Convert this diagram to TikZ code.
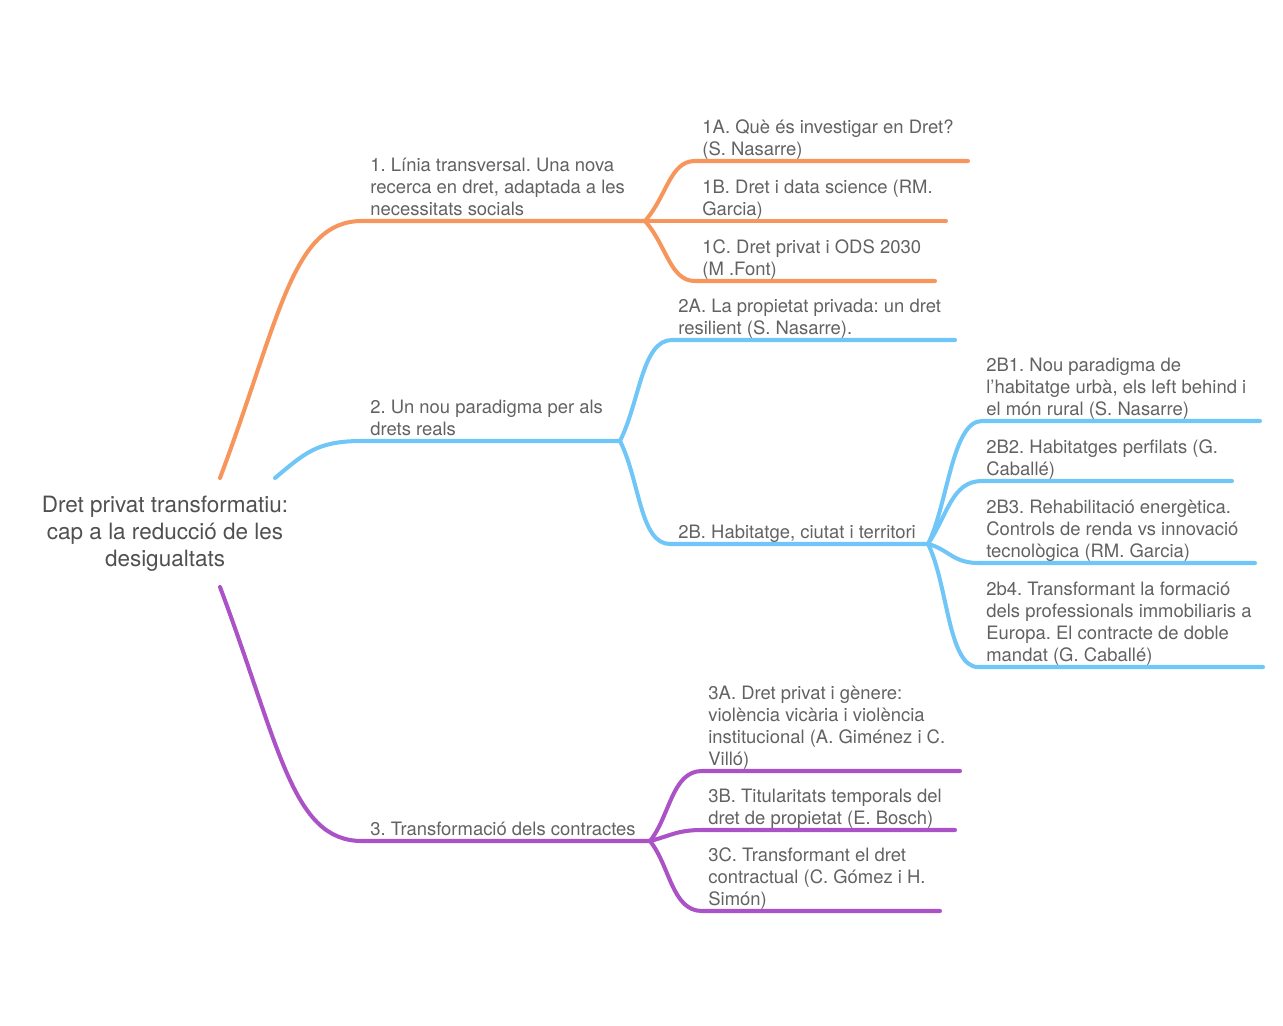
\documentclass[tikz,border=0pt]{standalone}
\usepackage{fontspec}
\setmainfont{TeX Gyre Heros}
\frenchspacing
\definecolor{brOrange}{RGB}{247,150,92}
\definecolor{brBlue}{RGB}{112,198,246}
\definecolor{brPurple}{RGB}{170,82,198}
\definecolor{txtGray}{RGB}{98,98,98}
\definecolor{rootGray}{RGB}{80,80,80}
\tikzset{
  branch/.style={line width=2.3pt, line cap=round},
  topic/.style={anchor=south west, inner sep=0pt, align=left, text depth=0pt,
    text=txtGray, font=\fontsize{10.5}{12.6}\selectfont},
  rootnode/.style={align=center, inner sep=0pt, text=rootGray,
    font=\fontsize{12.8}{15.4}\selectfont},
}
\begin{document}
\begin{tikzpicture}[x=0.02cm, y=-0.02cm]
\useasboundingbox (0,0) rectangle (1283,1026);
% centre
\node[rootnode] (root) at (165,534) {Dret privat transformatiu:\\cap a la reducció de les\\desigualtats};
% junctions and line ends
\coordinate (s1) at (220,478);
\coordinate (h1) at (362,221);
\coordinate (j1) at (645,221);
\coordinate (h1a) at (695,161);
\coordinate (e1a) at (968,161);
\coordinate (e1b) at (946,221);
\coordinate (h1c) at (695,281);
\coordinate (e1c) at (935,281);
\coordinate (s2) at (275,478);
\coordinate (h2) at (362,441);
\coordinate (j2) at (620,441);
\coordinate (h2a) at (672,340);
\coordinate (e2a) at (955,340);
\coordinate (h2b) at (670,544);
\coordinate (j2b) at (928,544);
\coordinate (h2b1) at (982,421);
\coordinate (e2b1) at (1260,421);
\coordinate (h2b2) at (982,481);
\coordinate (e2b2) at (1232,481);
\coordinate (h2b3) at (978,563);
\coordinate (e2b3) at (1255,563);
\coordinate (h2b4) at (978,667);
\coordinate (e2b4) at (1263,667);
\coordinate (s3) at (220,587);
\coordinate (h3) at (362,841);
\coordinate (j3) at (650,841);
\coordinate (h3a) at (702,771);
\coordinate (e3a) at (960,771);
\coordinate (h3b) at (702,830);
\coordinate (e3b) at (955,830);
\coordinate (h3c) at (702,911);
\coordinate (e3c) at (940,911);
% branch 1
\draw[branch, brOrange] (s1) .. controls +(60,-160) and +(-70,0) .. (h1) -- (j1);
\draw[branch, brOrange] (j1) .. controls +(22,-25) and +(-25,0) .. (h1a) -- (e1a);
\draw[branch, brOrange] (j1) -- (e1b);
\draw[branch, brOrange] (j1) .. controls +(22,25) and +(-25,0) .. (h1c) -- (e1c);
% branch 2
\draw[branch, brBlue] (s2) .. controls +(30,-25) and +(-45,0) .. (h2) -- (j2);
\draw[branch, brBlue] (j2) .. controls +(20,-40) and +(-30,0) .. (h2a) -- (e2a);
\draw[branch, brBlue] (j2) .. controls +(20,40) and +(-30,0) .. (h2b) -- (j2b);
\draw[branch, brBlue] (j2b) .. controls +(20,-40) and +(-30,0) .. (h2b1) -- (e2b1);
\draw[branch, brBlue] (j2b) .. controls +(20,-30) and +(-30,0) .. (h2b2) -- (e2b2);
\draw[branch, brBlue] (j2b) .. controls +(20,5) and +(-25,0) .. (h2b3) -- (e2b3);
\draw[branch, brBlue] (j2b) .. controls +(20,40) and +(-30,0) .. (h2b4) -- (e2b4);
% branch 3
\draw[branch, brPurple] (s3) .. controls +(60,160) and +(-70,0) .. (h3) -- (j3);
\draw[branch, brPurple] (j3) .. controls +(20,-25) and +(-30,0) .. (h3a) -- (e3a);
\draw[branch, brPurple] (j3) .. controls +(20,-5) and +(-25,0) .. (h3b) -- (e3b);
\draw[branch, brPurple] (j3) .. controls +(20,25) and +(-30,0) .. (h3c) -- (e3c);
% labels
\node[topic] (t1) at (370,216) {1. Línia transversal. Una nova\\recerca en dret, adaptada a les\\necessitats socials};
\node[topic] (t1a) at (702,156) {1A. Què és investigar en Dret?\\(S. Nasarre)};
\node[topic] (t1b) at (702,216) {1B. Dret i data science (RM.\\Garcia)};
\node[topic] (t1c) at (702,276) {1C. Dret privat i ODS 2030\\(M .Font)};
\node[topic] (t2) at (370,436) {2. Un nou paradigma per als\\drets reals};
\node[topic] (t2a) at (678,335) {2A. La propietat privada: un dret\\resilient (S. Nasarre).};
\node[topic] (t2b) at (678,539) {2B. Habitatge, ciutat i territori};
\node[topic] (t2b1) at (986,416) {2B1. Nou paradigma de\\l’habitatge urbà, els left behind i\\el món rural (S. Nasarre)};
\node[topic] (t2b2) at (986,476) {2B2. Habitatges perfilats (G.\\Caballé)};
\node[topic] (t2b3) at (986,558) {2B3. Rehabilitació energètica.\\Controls de renda vs innovació\\tecnològica (RM. Garcia)};
\node[topic] (t2b4) at (986,662) {2b4. Transformant la formació\\dels professionals immobiliaris a\\Europa. El contracte de doble\\mandat (G. Caballé)};
\node[topic] (t3) at (370,836) {3. Transformació dels contractes};
\node[topic] (t3a) at (708,766) {3A. Dret privat i gènere:\\violència vicària i violència\\institucional (A. Giménez i C.\\Villó)};
\node[topic] (t3b) at (708,825) {3B. Titularitats temporals del\\dret de propietat (E. Bosch)};
\node[topic] (t3c) at (708,906) {3C. Transformant el dret\\contractual (C. Gómez i H.\\Simón)};
\end{tikzpicture}
\end{document}
